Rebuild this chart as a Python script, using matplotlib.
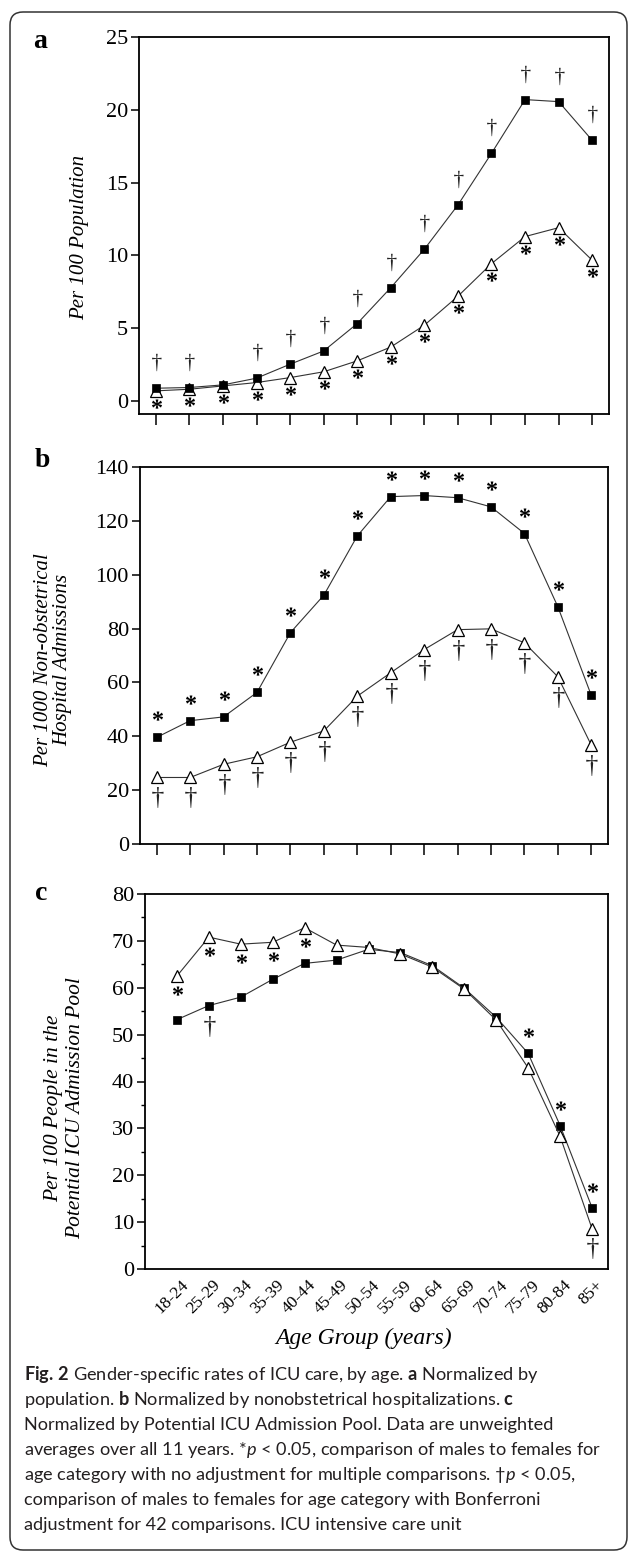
import matplotlib
matplotlib.use('Agg')
import matplotlib.pyplot as plt
from matplotlib.transforms import offset_copy, ScaledTranslation
from matplotlib.patches import FancyBboxPatch
from matplotlib.ticker import MultipleLocator
from matplotlib.textpath import TextPath
from matplotlib.font_manager import FontProperties
from matplotlib.path import Path
import numpy as np

# ---------------- data ----------------
age_groups = ['18-24', '25-29', '30-34', '35-39', '40-44', '45-49', '50-54',
              '55-59', '60-64', '65-69', '70-74', '75-79', '80-84', '85+']

# (a) per 100 population
males_a = [0.87, 0.92, 1.1, 1.56, 2.52, 3.43, 5.31, 7.78, 10.42, 13.46, 17.01, 20.7, 20.56, 17.9]
females_a = [0.69, 0.8, 1.03, 1.26, 1.6, 2.0, 2.75, 3.7, 5.2, 7.19, 9.43, 11.29, 11.9, 9.66]

# (b) per 1000 non-obstetrical hospital admissions
males_b = [39.6, 45.8, 47.2, 56.3, 78.5, 92.4, 114.4, 129.0, 129.4, 128.6, 125.2, 115.3, 88.1, 55.2]
females_b = [24.7, 24.7, 29.6, 32.4, 37.8, 42.0, 54.9, 63.6, 72.2, 79.6, 79.9, 74.7, 62.1, 36.7]

# (c) per 100 people in the potential ICU admission pool
males_c = [53.2, 56.2, 58.0, 61.8, 65.2, 65.9, 68.2, 67.5, 64.7, 59.9, 53.7, 46.0, 30.6, 13.1]
females_c = [62.5, 70.8, 69.3, 69.7, 72.8, 69.1, 68.6, 67.2, 64.4, 59.7, 53.1, 42.9, 28.3, 8.6]

# significance marks (indices of age groups)
a_dagger_males = [0, 1, 3, 4, 5, 6, 7, 8, 9, 10, 11, 12, 13]
a_star_females = list(range(14))
b_star_males = list(range(14))
b_dagger_females = list(range(14))
c_star_females = [0, 1, 2, 3, 4]
c_dagger_males = [1]
c_star_males = [11, 12, 13]
c_dagger_females = [13]

caption_lines = [
    r'$\mathbf{Fig.\,2}$ Gender-specific rates of ICU care, by age. $\mathbf{a}$ Normalized by',
    r'population. $\mathbf{b}$ Normalized by nonobstetrical hospitalizations. $\mathbf{c}$',
    r'Normalized by Potential ICU Admission Pool. Data are unweighted',
    r'averages over all 11 years. *$p$ < 0.05, comparison of males to females for',
    r'age category with no adjustment for multiple comparisons. †$p$ < 0.05,',
    r'comparison of males to females for age category with Bonferroni',
    r'adjustment for 42 comparisons. ICU intensive care unit',
]

# ---------------- style ----------------
plt.rcParams['font.family'] = ['Liberation Serif', 'DejaVu Serif']
plt.rcParams['mathtext.fontset'] = 'custom'
plt.rcParams['mathtext.rm'] = 'Lato'
plt.rcParams['mathtext.bf'] = 'Lato:bold'
plt.rcParams['mathtext.it'] = 'Lato:italic'

W, H = 630, 1554
fig = plt.figure(figsize=(W / 100, H / 100), dpi=100)

# background axes in pixel coordinates (y downward)
bg = fig.add_axes([0, 0, 1, 1], zorder=-5)
bg.set_xlim(0, W)
bg.set_ylim(H, 0)
bg.axis('off')
bg.add_patch(FancyBboxPatch((10, 12), 617, 1538,
                            boxstyle='round,pad=0,rounding_size=13',
                            fc='white', ec='#333333', lw=1.1))


def ax_at(left, top, right, bottom):
    return fig.add_axes([left / W, 1 - bottom / H, (right - left) / W, (bottom - top) / H])


def glyph_marker(ch, bold=False):
    fp = FontProperties(family='Liberation Serif', weight='bold' if bold else 'normal')
    p = TextPath((0, 0), ch, prop=fp, size=10)
    v = p.vertices.copy()
    c = (v.min(0) + v.max(0)) / 2
    return Path(v - c, p.codes)


STAR = glyph_marker('*', bold=True)
DAGGER = glyph_marker('\u2020')

x = np.arange(len(age_groups))


def style_axes(ax):
    for s in ax.spines.values():
        s.set_linewidth(1.3)
    ax.tick_params(axis='y', direction='out', length=6, width=1.1, labelsize=16, pad=2)
    ax.tick_params(axis='x', direction='out', length=8, width=1.1)


def draw_series(ax, m, f, males_on_top=True):
    zf, zm = (3, 4) if males_on_top else (4, 3)
    ax.plot(x, f, color='#333333', lw=0.8, marker='^', ms=8.5, mfc='white',
            mec='black', mew=0.9, zorder=zf, clip_on=False)
    ax.plot(x, m, color='#333333', lw=0.8, marker='s', ms=6.2, mfc='black',
            mec='black', mew=0.5, zorder=zm, clip_on=False)


def sig(ax, vals, idx, marker, dy, size, color='black'):
    tr = offset_copy(ax.transData, fig=fig, x=0, y=dy, units='dots')
    ax.plot([x[i] for i in idx], [vals[i] for i in idx], ls='none', marker=marker,
            ms=size, mfc=color, mec='none', transform=tr, clip_on=False, zorder=6)


STAR_MS = 11.5

# ---------------- panel a ----------------
axa = ax_at(139, 37, 609, 414)
draw_series(axa, males_a, females_a, males_on_top=True)
axa.set_xlim(-0.5, 13.5)
axa.set_ylim(-0.9, 25)
axa.set_yticks(np.arange(0, 26, 5))
axa.set_xticks(x)
axa.set_xticklabels([])
style_axes(axa)
sig(axa, males_a, a_dagger_males, DAGGER, 26, 12.5, '#222222')
sig(axa, females_a, a_star_females, STAR, -16, STAR_MS)

# ---------------- panel b ----------------
axb = ax_at(140, 467, 608, 844)
draw_series(axb, males_b, females_b)
axb.set_xlim(-0.5, 13.5)
axb.set_ylim(0, 140)
axb.set_yticks(np.arange(0, 141, 20))
axb.set_xticks(x)
axb.set_xticklabels([])
style_axes(axb)
sig(axb, males_b, b_star_males, STAR, 18, STAR_MS)
sig(axb, females_b, b_dagger_females, DAGGER, -20, 15, '#222222')

# ---------------- panel c ----------------
axc = ax_at(145, 894, 608, 1269)
draw_series(axc, males_c, females_c, males_on_top=False)
axc.set_xlim(-1, 13.5)
axc.set_ylim(0, 80)
axc.set_yticks(np.arange(0, 81, 10))
axc.yaxis.set_minor_locator(MultipleLocator(5))
axc.set_xticks(x)
axc.set_xticklabels(age_groups, rotation=45, ha='right', va='center',
                    rotation_mode='anchor', fontsize=12.5)
style_axes(axc)
axc.tick_params(axis='x', length=0, pad=10)
axc.tick_params(axis='y', which='minor', direction='out', length=3, width=1)
for lab in axc.get_xticklabels():
    lab.set_transform(lab.get_transform() + ScaledTranslation(0.09, 0, fig.dpi_scale_trans))
sig(axc, females_c, c_star_females, STAR, -18, STAR_MS)
sig(axc, males_c, c_dagger_males, DAGGER, -20, 15, '#222222')
sig(axc, males_c, c_star_males, STAR, 17, STAR_MS)
sig(axc, females_c, c_dagger_females, DAGGER, -19, 15, '#222222')

# ---------------- texts (pixel coordinates) ----------------
serif = dict(family='Liberation Serif', color='black')
bg.text(40, 48, 'a', fontsize=20, fontweight='bold', ha='center', va='baseline', **serif)
bg.text(42, 467, 'b', fontsize=20, fontweight='bold', ha='center', va='baseline', **serif)
bg.text(41, 900, 'c', fontsize=20, fontweight='bold', ha='center', va='baseline', **serif)

bg.text(80, 237, 'Per 100 Population', rotation=90, style='italic', fontsize=15,
        ha='center', va='center', **serif)
bg.text(53, 660, 'Per 1000 Non-obstetrical\nHospital Admissions', rotation=90,
        style='italic', fontsize=15, ha='center', va='center', linespacing=1.05, **serif)
bg.text(65, 1108, 'Per 100 People in the\nPotential ICU Admission Pool', rotation=90,
        style='italic', fontsize=15.5, ha='center', va='center', linespacing=1.2, **serif)

lab_kw = dict(fontsize=17, ha='center', va='center', **serif)
bg.text(390, 152, 'Males', **lab_kw)
bg.text(535, 317, 'Females', **lab_kw)
bg.text(256, 552, 'Males', **lab_kw)
bg.text(464, 716, 'Females', **lab_kw)
bg.text(379, 917, 'Females', **lab_kw)
bg.text(288, 1056, 'Males', **lab_kw)

bg.text(364, 1338, 'Age Group (years)', style='italic', fontsize=17, ha='center',
        va='center', **serif)

for i, line in enumerate(caption_lines):
    bg.text(24, 1380 + 25 * i, line, family='Lato', fontsize=13.1, color='#231f20',
            ha='left', va='baseline')

fig.savefig('out.png', dpi=100)
